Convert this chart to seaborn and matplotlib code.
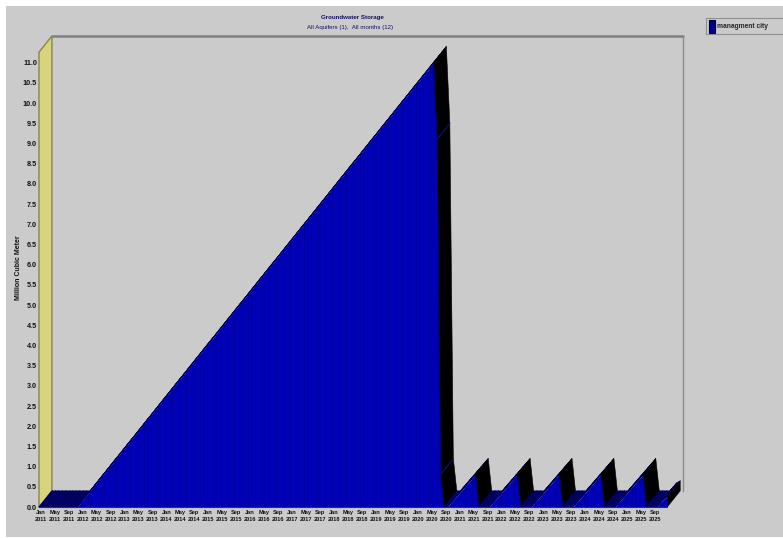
"""
Groundwater storage, WEAP style 3D area chart
"""

import matplotlib
matplotlib.use('Agg')
import numpy as np
import matplotlib.pyplot as plt
from matplotlib.collections import PolyCollection
from matplotlib.patches import Patch, Rectangle
import seaborn as sns

# one value per month, Jan 2011 onwards (Million Cubic Meter)
flat_start = [0.0] * 12
main_ramp = [0.11, 0.22, 0.32, 0.43, 0.54, 0.65, 0.76, 0.86, 0.97, 1.08,
             1.19, 1.29, 1.40, 1.51, 1.62, 1.72, 1.83, 1.94, 2.05, 2.16,
             2.26, 2.37, 2.48, 2.59, 2.70, 2.80, 2.91, 3.02, 3.13, 3.23,
             3.34, 3.45, 3.56, 3.67, 3.77, 3.88, 3.99, 4.10, 4.20, 4.31,
             4.42, 4.53, 4.64, 4.74, 4.85, 4.96, 5.07, 5.17, 5.28, 5.39,
             5.50, 5.61, 5.71, 5.82, 5.93, 6.04, 6.14, 6.25, 6.36, 6.47,
             6.58, 6.68, 6.79, 6.90, 7.01, 7.11, 7.22, 7.33, 7.44, 7.55,
             7.65, 7.76, 7.87, 7.98, 8.09, 8.19, 8.30, 8.41, 8.52, 8.62,
             8.73, 8.84, 8.95, 9.06, 9.16, 9.27, 9.38, 9.49, 9.59, 9.70,
             9.81, 9.92, 10.03, 10.13, 10.24, 10.35, 10.46, 10.56, 10.67, 10.78,
             10.89, 11.0]
drop = [9.1, 0.8, 0.0]
yearly_cycles = [0.0, 0.1, 0.2, 0.3, 0.4, 0.5, 0.6, 0.7, 0.8,
                 0.0, 0.0, 0.0, 0.0, 0.1, 0.2, 0.3, 0.4, 0.5, 0.6, 0.7, 0.8,
                 0.0, 0.0, 0.0, 0.0, 0.1, 0.2, 0.3, 0.4, 0.5, 0.6, 0.7, 0.8,
                 0.0, 0.0, 0.0, 0.0, 0.1, 0.2, 0.3, 0.4, 0.5, 0.6, 0.7, 0.8,
                 0.0, 0.0, 0.0, 0.0, 0.1, 0.2, 0.3, 0.4, 0.5, 0.6, 0.7, 0.8,
                 0.0, 0.0, 0.0, 0.0, 0.1, 0.2, 0.25]
storage = flat_start + main_ramp + drop + yearly_cycles

tick_months = ['Jan', 'May', 'Sep'] * 15
tick_years = [2011, 2011, 2011, 2012, 2012, 2012, 2013, 2013, 2013,
              2014, 2014, 2014, 2015, 2015, 2015, 2016, 2016, 2016,
              2017, 2017, 2017, 2018, 2018, 2018, 2019, 2019, 2019,
              2020, 2020, 2020, 2021, 2021, 2021, 2022, 2022, 2022,
              2023, 2023, 2023, 2024, 2024, 2024, 2025, 2025, 2025]
y_ticks = [0.0, 0.5, 1.0, 1.5, 2.0, 2.5, 3.0, 3.5, 4.0, 4.5, 5.0, 5.5,
           6.0, 6.5, 7.0, 7.5, 8.0, 8.5, 9.0, 9.5, 10.0, 10.5, 11.0]

BG = '#cbcbcb'
BLUE = '#0000b4'
DEPTH_X = 3.7
DEPTH_Y = 0.4
X_MAX = 184.5
Y_MAX = 11.66
FONT = 'Liberation Sans'


def draw_walls(ax):
    ax.fill([0, DEPTH_X, DEPTH_X, 0],
            [0, DEPTH_Y, Y_MAX, Y_MAX - DEPTH_Y],
            facecolor='#d8d47e', edgecolor='#85854f', lw=1, clip_on=False)
    ax.plot([DEPTH_X, X_MAX], [Y_MAX, Y_MAX], color='#808080', lw=1.8,
            clip_on=False)
    ax.plot([X_MAX, X_MAX], [Y_MAX, DEPTH_Y], color='#8a8a8a', lw=1,
            clip_on=False)


def draw_depth(ax, months, values):
    # side faces of the area, pushed back by the depth offset
    quads, colors = [], []
    for i in range(len(values) - 1):
        x0, x1 = months[i], months[i + 1]
        v0, v1 = values[i], values[i + 1]
        quads.append([(x0, v0), (x1, v1),
                      (x1 + DEPTH_X, v1 + DEPTH_Y),
                      (x0 + DEPTH_X, v0 + DEPTH_Y)])
        if v1 < v0:
            colors.append('black')
        elif v1 == v0:
            colors.append('#00006e')
        else:
            colors.append('#000050')
    # closing face at the right end of the area
    quads.append([(months[-1], 0), (months[-1], values[-1]),
                  (months[-1] + DEPTH_X, values[-1] + DEPTH_Y),
                  (months[-1] + DEPTH_X, DEPTH_Y)])
    colors.append('black')
    faces = PolyCollection(quads, facecolors=colors, edgecolors=colors,
                           linewidths=0.4, clip_on=False)
    ax.add_collection(faces)
    for i in range(len(values) - 1):
        # faint hatching on the flat floor parts
        if values[i] == 0 and values[i + 1] == 0:
            ax.plot([months[i], months[i] + DEPTH_X], [0, DEPTH_Y],
                    color='#000038', lw=0.5, clip_on=False)
        # the steps inside the big drop show as thin blue edges
        if values[i] > values[i + 1] and i > 0 and values[i - 1] > values[i]:
            ax.plot([months[i], months[i] + DEPTH_X],
                    [values[i], values[i] + DEPTH_Y],
                    color='#101090', lw=0.7, clip_on=False)


def draw_front(ax, months, values):
    ax.fill_between(months, 0, values, color=BLUE, lw=0, clip_on=False)
    ax.vlines(months[::2], 0, values[::2], color='#00009c', lw=0.6)
    line = sns.lineplot(x=months, y=values, color='#00006a', lw=0.8, ax=ax,
                        legend=False)
    for artist in line.lines:
        artist.set_clip_on(False)
    ax.plot([0, months[-1]], [0, 0], color='#2020c8', lw=0.8, clip_on=False)


def main():
    sns.set_theme(style='white')
    plt.rcParams['font.family'] = FONT

    fig = plt.figure(figsize=(7.83, 5.38), dpi=100, facecolor='white')
    fig.patches.append(Rectangle((6 / 783, 1 / 538), 777 / 783, 531 / 538,
                                 transform=fig.transFigure, facecolor=BG,
                                 edgecolor='none', zorder=-5))
    # legend strip runs off the right edge
    fig.patches.append(Rectangle((706 / 783, 1 - 34 / 538), 90 / 783, 16 / 538,
                                 transform=fig.transFigure, facecolor='none',
                                 edgecolor='#909090', lw=0.8, zorder=-4))
    ax = fig.add_axes([39 / 783, 1 - 507 / 538, 644 / 783, 471 / 538])
    ax.patch.set_alpha(0)
    sns.despine(ax=ax, left=True, bottom=True, top=True, right=True)

    months = np.arange(len(storage))
    values = np.array(storage)
    draw_walls(ax)
    draw_depth(ax, months, values)
    draw_front(ax, months, values)

    ax.set_xlim(0, X_MAX)
    ax.set_ylim(0, Y_MAX)
    ax.set_xticks(np.arange(len(tick_months)) * 4 + 0.5)
    ax.set_xticklabels([f'{m}\n{y}' for m, y in zip(tick_months, tick_years)],
                       fontsize=4.1, fontweight='bold', linespacing=1.5)
    ax.set_yticks(y_ticks)
    ax.set_yticklabels([f'{t:.1f}' for t in y_ticks], fontsize=5.2,
                       fontweight='bold')
    ax.tick_params(axis='both', length=0, colors='#111111')
    ax.tick_params(axis='x', pad=2.5)
    ax.tick_params(axis='y', pad=1.5)

    fig.text(19 / 783, 1 - 268 / 538, 'Million Cubic Meter', rotation=90,
             ha='center', va='center', fontsize=5.0, fontweight='bold',
             color='#111111')
    fig.text(352 / 783, 1 - 17 / 538, 'Groundwater Storage', ha='center',
             va='center', fontsize=4.4, fontweight='bold', color='#101060')
    fig.text(350 / 783, 1 - 28 / 538, 'All Aquifers (1),  All months (12)',
             ha='center', va='center', fontsize=4.4, color='#101060')

    handle = Patch(facecolor='#00008c', edgecolor='#000030', lw=0.8)
    fig.legend([handle], ['managment city'], loc='upper left',
               bbox_to_anchor=(703 / 783, 1 - 14 / 538),
               prop={'size': 4.8, 'weight': 'bold'}, handlelength=1.0,
               handleheight=2.6, handletextpad=0.3, borderpad=0.35,
               frameon=False)

    fig.savefig('out.png', dpi=100, facecolor=fig.get_facecolor())


if __name__ == '__main__':
    main()
